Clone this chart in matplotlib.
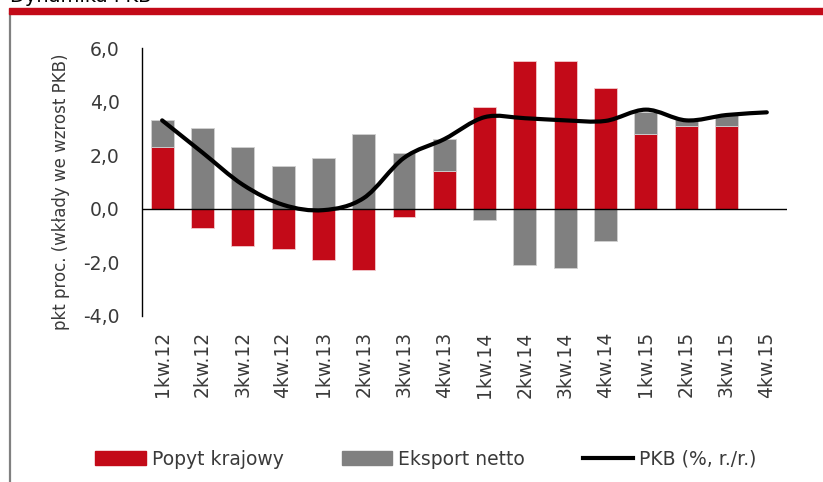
import numpy as np
import matplotlib
matplotlib.use("Agg")
import matplotlib.pyplot as plt
from matplotlib.path import Path
from matplotlib.patches import PathPatch, Rectangle
from matplotlib.lines import Line2D

plt.rcParams['font.family'] = ['DejaVu Sans']

# data
kwartaly = ['1kw.12', '2kw.12', '3kw.12', '4kw.12', '1kw.13', '2kw.13', '3kw.13', '4kw.13',
            '1kw.14', '2kw.14', '3kw.14', '4kw.14', '1kw.15', '2kw.15', '3kw.15', '4kw.15']
popyt = [2.3, -0.7, -1.4, -1.5, -1.9, -2.3, -0.3, 1.4,
         3.8, 5.5, 5.5, 4.5, 2.8, 3.1, 3.1, np.nan]
eksport = [1.0, 3.0, 2.3, 1.6, 1.9, 2.8, 2.1, 1.2,
           -0.4, -2.1, -2.2, -1.2, 0.8, 0.25, 0.4, np.nan]
pkb = [3.3, 2.1, 0.9, 0.15, -0.05, 0.4, 1.9, 2.6,
       3.42, 3.38, 3.3, 3.28, 3.7, 3.3, 3.5, 3.6]

RED = '#C30A18'
GRAY = '#808080'
TXT = '#3a3a3a'

fig = plt.figure(figsize=(8.23, 4.82), dpi=100)
ax = fig.add_axes([0.1725, 0.3444, 0.7837, 0.556])

x = np.arange(len(kwartaly))
p = np.array(popyt)
e = np.array(eksport)
# positives stack up, negatives stack down
e_bottom = np.where((p > 0) & (e > 0), p, np.where((p < 0) & (e < 0), p, 0))
ax.bar(x, p, width=0.57, color=RED, edgecolor='#f2c9cc', linewidth=0.6, zorder=2)
ax.bar(x, e, width=0.57, bottom=e_bottom, color=GRAY, edgecolor='#d0d0d0', linewidth=0.6, zorder=2)

# smoothed PKB line (bezier through the points)
pts = np.column_stack([x, pkb])
verts = [tuple(pts[0])]
codes = [Path.MOVETO]
n = len(pts)
for i in range(n - 1):
    p0 = pts[i - 1] if i > 0 else pts[i]
    p1 = pts[i]
    p2 = pts[i + 1]
    p3 = pts[i + 2] if i + 2 < n else pts[i + 1]
    c1 = p1 + (p2 - p0) / 6
    c2 = p2 - (p3 - p1) / 6
    verts += [tuple(c1), tuple(c2), tuple(p2)]
    codes += [Path.CURVE4] * 3
ax.add_patch(PathPatch(Path(verts, codes), facecolor='none', edgecolor='black',
                       linewidth=3, capstyle='round', joinstyle='round', zorder=3))

ax.axhline(0, color='black', linewidth=1, zorder=2.5)
ax.set_xlim(-0.5, len(kwartaly) - 0.5)
ax.set_ylim(-4, 6)
ax.set_yticks([-4, -2, 0, 2, 4, 6])
ax.set_yticklabels([('%.1f' % v).replace('.', ',') for v in [-4, -2, 0, 2, 4, 6]])
ax.set_xticks(x)
ax.set_xticklabels(kwartaly, rotation=90)
ax.tick_params(axis='both', length=0, labelsize=13.5, colors=TXT)
ax.tick_params(axis='y', pad=16)
ax.tick_params(axis='x', pad=11)
for s in ['top', 'right', 'bottom']:
    ax.spines[s].set_visible(False)
ax.spines['left'].set_linewidth(1)
ax.set_ylabel('pkt proc. (wkłady we wzrost PKB)', fontsize=12, color=TXT)
ax.yaxis.set_label_coords(-0.112, 0.463)

handles = [Rectangle((0, 0), 1, 1, color=RED), Rectangle((0, 0), 1, 1, color=GRAY),
           Line2D([0], [0], color='black', linewidth=3)]
fig.legend(handles, ['Popyt krajowy', 'Eksport netto', 'PKB (%, r./r.)'],
           loc='center left', bbox_to_anchor=(86 / 823, 0.0477), ncol=3, frameon=False,
           fontsize=13.5, handlelength=2.7, handleheight=0.74, handletextpad=0.3,
           columnspacing=3.1, borderpad=0, labelcolor=TXT)

# frame decoration
fig.patches.append(Rectangle((9 / 823, 1 - 14 / 482), 1, 6 / 482, transform=fig.transFigure,
                             color=RED, zorder=5))
fig.add_artist(Line2D([9.5 / 823, 9.5 / 823], [0, 1 - 14 / 482], transform=fig.transFigure,
                      color=GRAY, linewidth=1.6))
fig.text(10 / 823, 1 - 2.5 / 482, 'Dynamika PKB', fontsize=14, va='baseline', ha='left')

fig.savefig('out.png', dpi=100)
